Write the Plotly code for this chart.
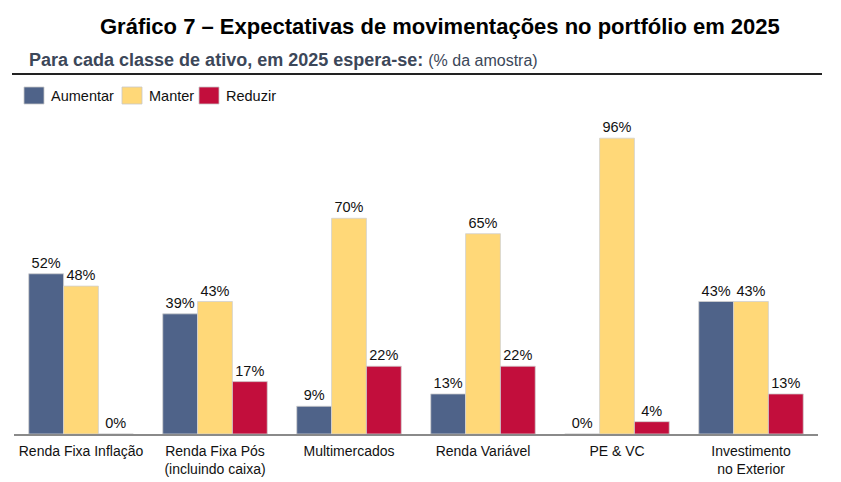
import plotly.graph_objects as go

categories = ["Renda Fixa Inflação", "Renda Fixa Pós<br>(incluindo caixa)", "Multimercados",
              "Renda Variável", "PE & VC", "Investimento<br>no Exterior"]
aumentar = [52, 39, 9, 13, 0, 43]
manter = [48, 43, 70, 65, 96, 43]
reduzir = [0, 17, 22, 22, 4, 13]

series = [("Aumentar", aumentar, "#4f6389"), ("Manter", manter, "#ffd878"), ("Reduzir", reduzir, "#c20e3c")]

W, H = 841, 482
ml, mr, mt, mb = 14, 23, 112, 48
pw, ph = W - ml - mr, H - mt - mb

def px2x(px):
    return (px - ml) / pw

def py2y(py):
    return 1 - (py - mt) / ph

fig = go.Figure()
for name, vals, col in series:
    fig.add_trace(go.Bar(
        name=name, x=categories, y=vals,
        marker=dict(color=col, line=dict(color="#d0d0d0", width=0.8)),
        text=[f"{v}%" for v in vals], textposition="outside",
        textfont=dict(size=14.5, color="#111111", family="Liberation Sans"),
        cliponaxis=False, showlegend=False,
    ))

fig.update_layout(
    width=W, height=H,
    margin=dict(l=ml, r=mr, t=mt, b=mb, autoexpand=False),
    paper_bgcolor="white", plot_bgcolor="white",
    barmode="group", bargap=0.22, bargroupgap=0,
    font=dict(family="Liberation Sans", size=14, color="#111111"),
    xaxis=dict(showline=True, linecolor="#8a8a8a", linewidth=1.5, ticks="",
               tickfont=dict(size=14, color="#111111"), showgrid=False,
               automargin=False, ticklabelstandoff=3),
    yaxis=dict(range=[0, 104.5], visible=False, showgrid=False, automargin=False),
    showlegend=False,
)

# custom legend (swatches + labels)
leg_x = [24, 122, 199]
for (name, vals, col), lx in zip(series, leg_x):
    fig.add_shape(type="rect", xref="paper", yref="paper",
                  x0=px2x(lx), x1=px2x(lx + 20), y0=py2y(104), y1=py2y(87),
                  fillcolor=col, line=dict(color="#c8c8c8", width=0.8))
    fig.add_annotation(text=name, xref="paper", yref="paper", x=px2x(lx + 25), y=py2y(96),
                       xanchor="left", yanchor="middle", showarrow=False,
                       font=dict(size=14.5, color="#111111", family="Liberation Sans"))

fig.add_annotation(text="<b>Gráfico 7 – Expectativas de movimentações no portfólio em 2025</b>",
                   xref="paper", yref="paper", x=px2x(440), y=py2y(26),
                   xanchor="center", yanchor="middle", showarrow=False,
                   font=dict(size=22, color="#000000", family="Liberation Sans"))
fig.add_annotation(text="<b>Para cada classe de ativo, em 2025 espera-se:</b> <span style='font-size:16px'>(% da amostra)</span>",
                   xref="paper", yref="paper", x=px2x(27), y=py2y(60),
                   xanchor="left", yanchor="middle", showarrow=False,
                   font=dict(size=18, color="#3c4759", family="Liberation Sans"))
fig.add_shape(type="line", xref="paper", yref="paper",
              x0=px2x(12), x1=px2x(822), y0=py2y(74), y1=py2y(74),
              line=dict(color="#222222", width=2))

fig.write_html("out.html")
